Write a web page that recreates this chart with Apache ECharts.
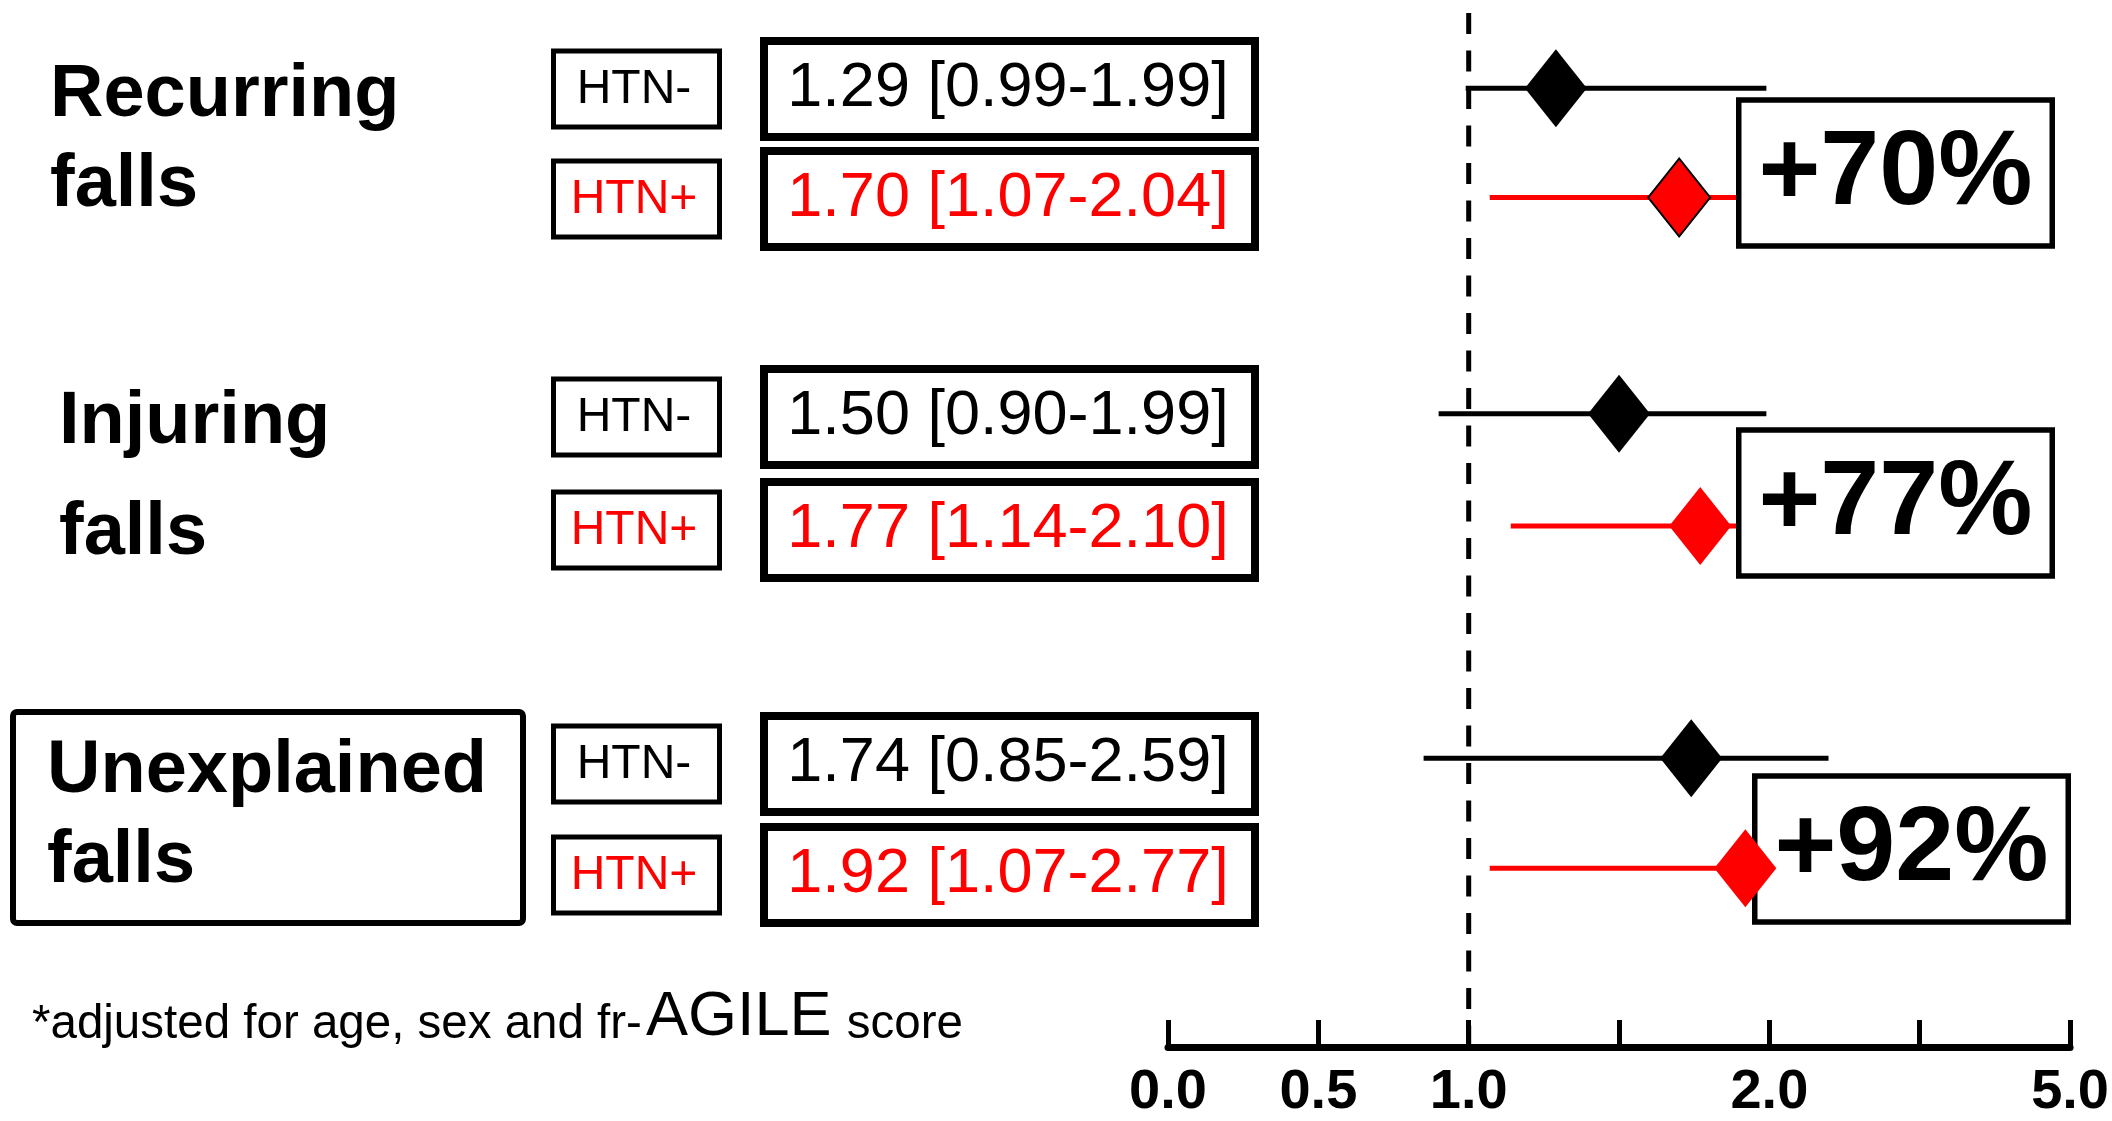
<!DOCTYPE html>
<html>
<head>
<meta charset="utf-8">
<script src="https://cdn.jsdelivr.net/npm/echarts@6/dist/echarts.min.js"></script>
<style>
  html, body { margin: 0; padding: 0; background: #ffffff; }
  #chart { width: 2112px; height: 1121px; }
</style>
</head>
<body>
<div id="chart"></div>
<script>
// Fall outcomes and hypertension groups
const outcomes = ['Recurring', 'Injuring', 'Unexplained'];
const outcomeSuffix = 'falls';
const groupLabels = ['HTN-', 'HTN+'];

// Adjusted odds ratios with 95% CI, rows ordered outcome by outcome (HTN-, HTN+)
const oddsRatio = [1.29, 1.70, 1.50, 1.77, 1.74, 1.92];
const ciLow     = [0.99, 1.07, 0.90, 1.14, 0.85, 1.07];
const ciHigh    = [1.99, 2.04, 1.99, 2.10, 2.59, 2.77];

// Relative increase reported for each outcome
const increaseLabels = ['+70%', '+77%', '+92%'];

// Odds-ratio axis: equally spaced ticks, labelled at selected breakpoints
const tickValues = [0, 0.5, 1.0, 1.5, 2.0, 3.5, 5.0];
const tickLabels = ['0.0', '0.5', '1.0', '', '2.0', '', '5.0'];

const FONT = '"Liberation Sans", Arial, Helvetica, sans-serif';
const BLACK = '#000000';
const RED = '#ff0000';
const groupColors = [BLACK, RED];

// Vertical layout (axis units = pixels on the hidden y axis)
const rowY = [89, 199, 417, 530, 764, 875];
const titleLayout = [
  { x: 50, y: 51, lineHeight: 90, boxed: false },
  { x: 59, y: 367, lineHeight: 111, boxed: false },
  { x: 47, y: 727, lineHeight: 90, boxed: true }
];
const increaseBoxes = [
  { x: 1736, cy: 173 },
  { x: 1736, cy: 503 },
  { x: 1752, cy: 849 }
];

// Piecewise-linear position of an odds ratio on the tick scale
function toUnit(v) {
  for (let i = 0; i < tickValues.length - 1; i++) {
    const a = tickValues[i], b = tickValues[i + 1];
    if (v <= b || i === tickValues.length - 2) {
      return i + (v - a) / (b - a);
    }
  }
  return tickValues.length - 1;
}

const fmt = v => v.toFixed(2);

const graphics = [];

// Outcome titles
outcomes.forEach((name, o) => {
  const t = titleLayout[o];
  if (t.boxed) {
    graphics.push({
      type: 'rect', z: 5,
      shape: { x: 13, y: 712, width: 510, height: 211, r: 4 },
      style: { fill: '#ffffff', stroke: BLACK, lineWidth: 6 }
    });
  }
  graphics.push({
    type: 'text', z: 6, x: t.x, y: t.y,
    style: {
      text: name + '\n' + outcomeSuffix,
      font: 'bold 74px ' + FONT,
      fill: BLACK,
      lineHeight: t.lineHeight,
      align: 'left',
      verticalAlign: 'top'
    }
  });
});

// Group labels and estimate text boxes
rowY.forEach((y, r) => {
  const g = r % 2;
  const color = groupColors[g];
  graphics.push({
    type: 'rect', z: 5,
    shape: { x: 553.5, y: y - 38, width: 166, height: 76 },
    style: { fill: '#ffffff', stroke: BLACK, lineWidth: 5 }
  });
  graphics.push({
    type: 'text', z: 6, x: 634, y: y + 1,
    style: {
      text: groupLabels[g],
      font: '48px ' + FONT,
      fill: color, align: 'center', verticalAlign: 'middle'
    }
  });
  graphics.push({
    type: 'rect', z: 5,
    shape: { x: 764, y: y - 48, width: 491, height: 96 },
    style: { fill: '#ffffff', stroke: BLACK, lineWidth: 8 }
  });
  graphics.push({
    type: 'text', z: 6, x: 1008, y: y,
    style: {
      text: fmt(oddsRatio[r]) + ' [' + fmt(ciLow[r]) + '-' + fmt(ciHigh[r]) + ']',
      font: '63px ' + FONT,
      fill: color, align: 'center', verticalAlign: 'middle'
    }
  });
});

// Relative increase boxes
increaseLabels.forEach((label, o) => {
  const b = increaseBoxes[o];
  graphics.push({
    type: 'rect', z: 5,
    shape: { x: b.x + 2.75, y: b.cy - 73, width: 313.5, height: 146 },
    style: { fill: '#ffffff', stroke: BLACK, lineWidth: 5.5 }
  });
  graphics.push({
    type: 'text', z: 6, x: b.x + 159.5, y: b.cy + 2,
    style: {
      text: label,
      font: 'bold 106px ' + FONT,
      fill: BLACK, align: 'center', verticalAlign: 'middle'
    }
  });
});

// Adjustment footnote
graphics.push({
  type: 'text', z: 6, x: 32, y: 1049,
  style: {
    text: '{s|*adjusted for age, sex and fr-}{b|AGILE}{s| score}',
    align: 'left',
    verticalAlign: 'bottom',
    fill: BLACK,
    rich: {
      s: { font: '47.5px ' + FONT, fill: BLACK, lineHeight: 63, verticalAlign: 'bottom' },
      b: { font: '63px ' + FONT, fill: BLACK, lineHeight: 63, verticalAlign: 'bottom', padding: [0, 2, 0, 4] }
    }
  }
});

const ciData = rowY.map((y, r) => [toUnit(ciLow[r]), toUnit(ciHigh[r]), y, r % 2]);
const pointData = rowY.map((y, r) => ({
  value: [toUnit(oddsRatio[r]), y],
  itemStyle: {
    color: groupColors[r % 2],
    borderColor: BLACK,
    borderWidth: r === 1 ? 2 : 0,
    opacity: 1
  }
}));

const chart = echarts.init(document.getElementById('chart'), null, { renderer: 'canvas' });
chart.setOption({
  animation: false,
  backgroundColor: '#ffffff',
  grid: { left: 1168, top: 0, width: 907, height: 1055 },
  xAxis: {
    type: 'value', min: 0, max: 6, interval: 1,
    axisLine: { show: true, onZero: false, lineStyle: { color: BLACK, width: 7 } },
    axisTick: { show: true, inside: true, length: 27, lineStyle: { color: BLACK, width: 5 } },
    axisLabel: {
      formatter: v => tickLabels[Math.round(v)],
      fontSize: 56, fontWeight: 'bold', fontFamily: FONT, color: BLACK, margin: 18
    },
    splitLine: { show: false }
  },
  yAxis: { type: 'value', min: 0, max: 1055, inverse: true, show: false },
  series: [
    {
      // Reference line at OR = 1
      type: 'custom', z: 2,
      data: [[toUnit(1.0), 13, 1052]],
      encode: { x: 0, y: [1, 2] },
      renderItem: (params, api) => {
        const p1 = api.coord([api.value(0), api.value(1)]);
        const p2 = api.coord([api.value(0), api.value(2)]);
        return {
          type: 'line',
          shape: { x1: p1[0], y1: p1[1], x2: p2[0], y2: p2[1] },
          style: { stroke: BLACK, lineWidth: 5, lineDash: [21, 16.5] }
        };
      }
    },
    {
      // Confidence intervals
      type: 'custom', z: 3,
      data: ciData,
      encode: { x: [0, 1], y: 2 },
      renderItem: (params, api) => {
        const p1 = api.coord([api.value(0), api.value(2)]);
        const p2 = api.coord([api.value(1), api.value(2)]);
        return {
          type: 'line',
          shape: { x1: p1[0], y1: p1[1], x2: p2[0], y2: p2[1] },
          style: { stroke: groupColors[api.value(3)], lineWidth: 5 }
        };
      }
    },
    {
      // Point estimates
      type: 'scatter', z: 10,
      symbol: 'diamond',
      symbolSize: [62, 78],
      itemStyle: { opacity: 1 },
      emphasis: { disabled: true },
      data: pointData
    }
  ],
  graphic: graphics
});
</script>
</body>
</html>
